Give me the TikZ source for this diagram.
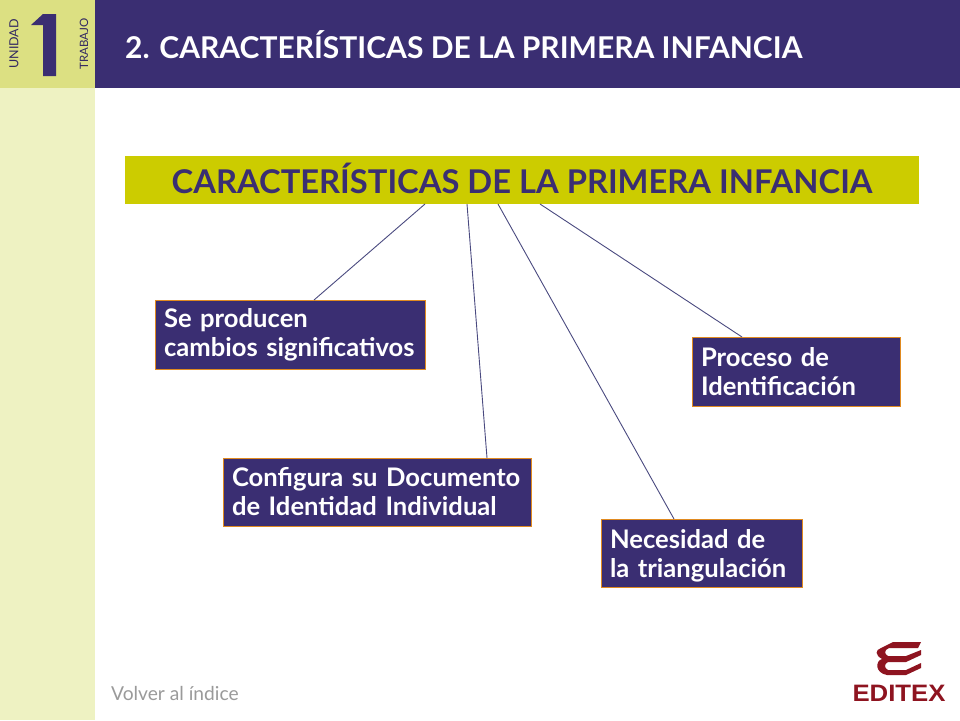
\documentclass[tikz,border=0pt]{standalone}
\usepackage{fontspec}
\setmainfont{Lato}
\newfontfamily\logofont{Liberation Sans}
\definecolor{navy}{HTML}{3A2E72}
\definecolor{olive}{HTML}{CCCC00}
\definecolor{side}{HTML}{EEF2C2}
\definecolor{corner}{HTML}{DCE082}
\definecolor{edge}{HTML}{E08A20}
\definecolor{wine}{HTML}{8E1420}
\definecolor{linkc}{HTML}{4A4A80}
\definecolor{softgray}{HTML}{9A9A9A}
\tikzset{
  x=1pt,y=-1pt,
  fillbox/.style={fill=#1,draw=none,inner sep=0pt,outer sep=0pt},
  itembox/.style={draw=edge,line width=1pt,fill=navy,text=white,anchor=north west,inner xsep=9pt,inner ysep=0pt,outer sep=0pt,
    align=left,font=\fontsize{25.6}{29}\selectfont\bfseries},
  link/.style={draw=linkc,line width=0.9pt},
}
\begin{document}
\begin{tikzpicture}
\useasboundingbox (0,0) rectangle (960,720);
\fill[white] (0,0) rectangle (960,720);
\fill[side] (0,88) rectangle (95,720);
\fill[corner] (0,0) rectangle (95,88);
\fill[navy] (95,0) rectangle (960,88);
\node[rotate=90,text=navy!85!black,font=\fontsize{12.5}{13}\selectfont] (unidad) at (14,44) {UNIDAD};
\node[rotate=90,text=navy!85!black,font=\fontsize{11.5}{12}\selectfont] (trabajo) at (84,44) {TRABAJO};
\fill[navy] (43,14) -- (56,14) -- (56,76) -- (43,76) -- (43,25) -- (31,25) -- cycle;
\node[anchor=west,inner sep=0pt,text=white,font=\fontsize{30}{32}\selectfont\bfseries] (head) at (125,45) {2. CARACTERÍSTICAS DE LA PRIMERA INFANCIA};
\node[fillbox=olive,anchor=north west,minimum width=794pt,minimum height=48pt,text=navy,font=\fontsize{32.7}{36}\selectfont\bfseries] (title) at (125,156) {\raisebox{3pt}{CARACTERÍSTICAS DE LA PRIMERA INFANCIA}};
\node[itembox,text width=252pt,minimum height=69pt] (b1) at (155,300) {Se producen\\cambios significativos};
\node[itembox,text width=290pt,minimum height=68pt] (b2) at (223,458) {Configura su Documento\\de Identidad Individual};
\node[itembox,text width=183pt,minimum height=68pt] (b3) at (601,519) {\rule{0pt}{25pt}Necesidad de\\la triangulación};
\node[itembox,text width=190pt,minimum height=69pt] (b4) at (692,337) {Proceso de\\Identificación};
\draw[link] ([xshift=300pt]title.south west) -- ([xshift=159pt]b1.north west);
\draw[link] ([xshift=342pt]title.south west) -- ([xshift=264pt]b2.north west);
\draw[link] ([xshift=373pt]title.south west) -- ([xshift=73pt]b3.north west);
\draw[link] ([xshift=415pt]title.south west) -- ([xshift=50pt]b4.north west);
\node[anchor=west,inner sep=0pt,text=softgray,font=\fontsize{19.2}{21}\selectfont] (volver) at (111,693) {Volver al índice};
% logo
\fill[wine] (893,642) -- (921,642) -- (918,648) -- (889,648) .. controls (884,650) and (884,654) .. (888,656)
  -- (906,656) -- (921,650) -- (921,655) -- (906,662) -- (888,662) .. controls (884,664) and (884,668) .. (888,670)
  -- (906,670) -- (921,663) -- (921,668) -- (906,675) -- (887,675) .. controls (875,673) and (875,661) .. (882,659)
  .. controls (875,655) and (875,650) .. (881,648) -- cycle;
\node[anchor=center,text=wine,inner sep=0pt,font=\logofont\fontsize{25}{26}\selectfont\bfseries] (logo) at (899,693) {\scalebox{1.03}[0.95]{EDITEX}};
\end{tikzpicture}
\end{document}
